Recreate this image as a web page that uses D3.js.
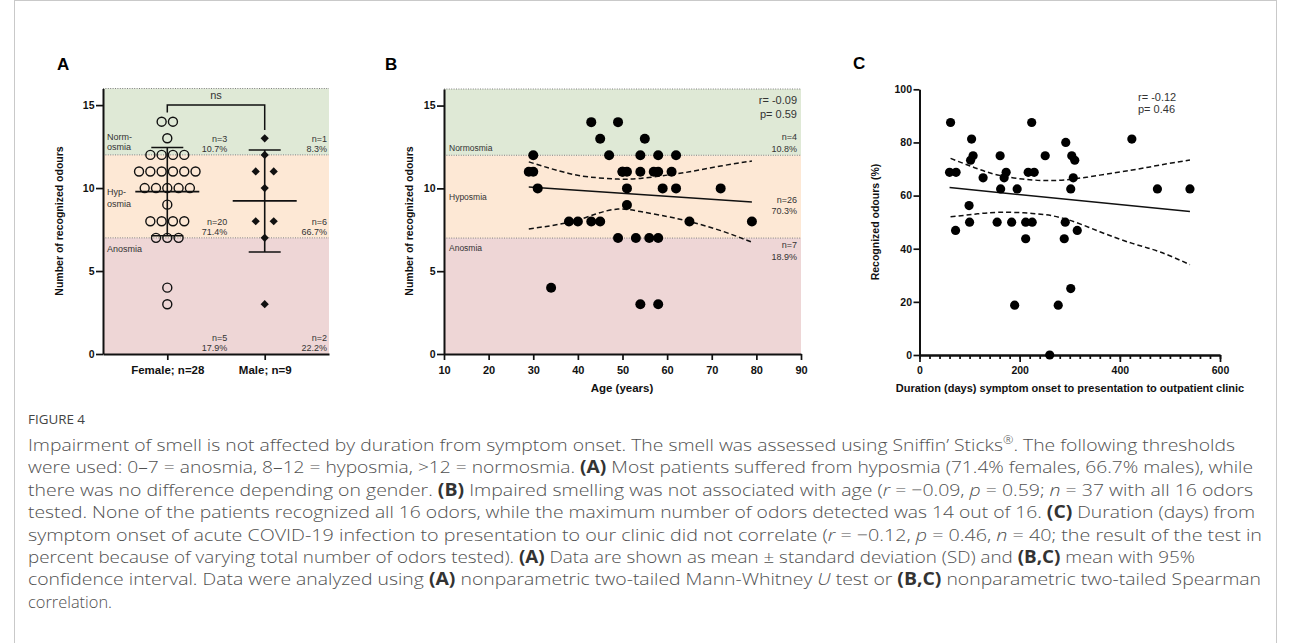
<!DOCTYPE html>
<html>
<head>
<meta charset="utf-8">
<script src="https://cdn.jsdelivr.net/npm/d3@7"></script>
<style>
    body { margin: 0; background: #fff; }
    svg { display: block; font-family: "Liberation Sans", Arial, sans-serif; }
</style>
</head>
<body>
<svg id="fig" width="1291" height="643"></svg>
<script>
// ---- Data
const bandNames = ['Anosmia', 'Hyposmia', 'Normosmia'];
const bandLimits = [[0, 7], [7, 12], [12, 16]];

// Panel A: number of recognized odours by gender
const groupLabels = ['Female; n=28', 'Male; n=9'];
const femaleScores = [14, 14, 13, 12, 12, 12, 12, 11, 11, 11, 11, 11, 11, 10, 10, 10, 10, 10, 9, 8, 8, 8, 8, 7, 7, 7, 4, 3];
const maleScores = [13, 12, 11, 11, 10, 8, 8, 7, 3];
const femaleBandStats = [['n=5', '17.9%'], ['n=20', '71.4%'], ['n=3', '10.7%']];
const maleBandStats = [['n=2', '22.2%'], ['n=6', '66.7%'], ['n=1', '8.3%']];
const scoreTicks = [0, 5, 10, 15];

// Panel B: score against age
const ageYears = [43, 49, 45, 55, 30, 47, 54, 58, 62, 29, 30, 50, 51, 54, 57, 58, 61, 50,
    31, 51, 59, 62, 72, 51, 38, 40, 43, 45, 65, 79, 49, 53, 56, 58, 34, 54, 58];
const ageScores = [14, 14, 13, 13, 12, 12, 12, 12, 12, 11, 11, 11, 11, 11, 11, 11, 11, 11,
    10, 10, 10, 10, 10, 9, 8, 8, 8, 8, 8, 8, 7, 7, 7, 7, 4, 3, 3];
const ageBandStats = [['n=7', '18.9%'], ['n=26', '70.3%'], ['n=4', '10.8%']];
const ageFitX = [29, 79];
const ageFitY = [10.08, 9.17];
const ageCiX = [29, 38, 44, 49, 54, 60, 65, 72, 79];
const ageCiUpper = [11.6, 10.9, 10.65, 10.56, 10.6, 10.8, 11.0, 11.35, 11.65];
const ageCiLower = [7.55, 7.95, 8.45, 8.75, 8.6, 8.3, 8.0, 7.45, 6.75];
const ageTicks = [10, 20, 30, 40, 50, 60, 70, 80, 90];

// Panel C: recognized odours (%) against duration (days)
const durationDays = [62, 60, 73, 72, 104, 102, 107, 99, 100, 127, 161, 162, 169, 173, 155, 184, 195,
    212, 225, 212, 224, 217, 229, 251, 292, 304, 310, 307, 302, 291, 315, 289, 424, 475, 540,
    190, 277, 302, 260];
const recognizedPct = [87.5, 68.75, 68.75, 46.9, 81.25, 73.3, 75, 56.25, 50, 66.7, 75, 62.5, 66.7, 68.75, 50, 50, 62.5,
    50, 50, 43.75, 87.5, 68.75, 68.75, 75, 80, 75, 73.3, 66.7, 62.5, 50, 46.9, 43.75, 81.25, 62.5, 62.5,
    18.75, 18.75, 25, 0];
const durFitX = [60, 540];
const durFitY = [63.0, 54.0];
const durCiX = [62, 110, 160, 225, 290, 360, 425, 480, 540];
const durCiUpper = [74.0, 70.5, 67.6, 65.9, 65.9, 67.7, 69.6, 71.5, 73.4];
const durCiLower = [52.0, 53.0, 53.7, 53.3, 51.3, 46.4, 42.0, 38.8, 34.0];
const pctTicks = [0, 20, 40, 60, 80, 100];
const dayTicks = [0, 200, 400, 600];
const dayMinorTicks = d3.range(0, 601, 20);

// Caption
const captionTitle = 'FIGURE 4';
const captionLines = [
    [['Impairment of smell is not affected by duration from symptom onset. The smell was assessed using Sniffin’ Sticks'], ['®', 'sup'], ['. The following thresholds']],
    [['were used: 0–7 = anosmia, 8–12 = hyposmia, >12 = normosmia. '], ['(A)', 'b'], [' Most patients suffered from hyposmia (71.4% females, 66.7% males), while']],
    [['there was no difference depending on gender. '], ['(B)', 'b'], [' Impaired smelling was not associated with age ('], ['r', 'i'], [' = −0.09, '], ['p', 'i'], [' = 0.59; '], ['n', 'i'], [' = 37 with all 16 odors']],
    [['tested. None of the patients recognized all 16 odors, while the maximum number of odors detected was 14 out of 16. '], ['(C)', 'b'], [' Duration (days) from']],
    [['symptom onset of acute COVID-19 infection to presentation to our clinic did not correlate ('], ['r', 'i'], [' = −0.12, '], ['p', 'i'], [' = 0.46, '], ['n', 'i'], [' = 40; the result of the test in']],
    [['percent because of varying total number of odors tested). '], ['(A)', 'b'], [' Data are shown as mean ± standard deviation (SD) and '], ['(B,C)', 'b'], [' mean with 95%']],
    [['confidence interval. Data were analyzed using '], ['(A)', 'b'], [' nonparametric two-tailed Mann-Whitney '], ['U', 'i'], [' test or '], ['(B,C)', 'b'], [' nonparametric two-tailed Spearman']],
    [['correlation.']]
];
const captionWidths = [1207, 1225, 1225, 1227, 1234, 1167, 1233, 84];

// ---- Styles
const bandColors = ['#eed6d6', '#fde8d5', '#dfe9d6'];
const FONT = '"Liberation Sans", Arial, sans-serif';

const svg = d3.select('#fig');

// figure frame
svg.append('rect')
    .attr('x', 14.5).attr('y', 0.5)
    .attr('width', 1262).attr('height', 700)
    .attr('fill', 'none').attr('stroke', '#c9c9c9');

function styleAxis(g, size) {
    g.attr('font-family', FONT);
    g.select('.domain').attr('stroke', '#111').attr('stroke-width', 2);
    g.selectAll('.tick line').attr('stroke', '#111').attr('stroke-width', 1.7);
    g.selectAll('.tick text')
        .attr('fill', '#111').attr('font-weight', 'bold').attr('font-size', size);
}

function drawBands(g, x0, x1, y) {
    g.selectAll('rect.band')
        .data(bandLimits).join('rect')
        .attr('class', 'band')
        .attr('x', x0).attr('width', x1 - x0)
        .attr('y', d => y(d[1]))
        .attr('height', d => y(d[0]) - y(d[1]))
        .attr('fill', (d, i) => bandColors[i]);

    g.selectAll('line.thr')
        .data(bandLimits).join('line')
        .attr('class', 'thr')
        .attr('x1', x0).attr('x2', x1)
        .attr('y1', d => y(d[1])).attr('y2', d => y(d[1]))
        .attr('stroke', '#808080').attr('stroke-width', 1)
        .attr('stroke-dasharray', '1,1.4');
}

function smallText(g, x, y, txt, anchor, size = 9) {
    g.append('text')
        .attr('x', x).attr('y', y)
        .attr('text-anchor', anchor)
        .attr('font-size', size).attr('fill', '#333')
        .text(txt);
}

function panelLetter(x, y, letter) {
    svg.append('text')
        .attr('x', x).attr('y', y)
        .attr('font-size', 17).attr('font-weight', 'bold').attr('fill', '#000')
        .text(letter);
}

function yTitle(x, y, txt) {
    svg.append('text')
        .attr('transform', `translate(${x},${y}) rotate(-90)`)
        .attr('text-anchor', 'middle')
        .attr('font-size', 10.5).attr('font-weight', 'bold').attr('fill', '#111')
        .text(txt);
}

function xTitle(x, y, txt, size) {
    svg.append('text')
        .attr('x', x).attr('y', y)
        .attr('text-anchor', 'middle')
        .attr('font-size', size).attr('font-weight', 'bold').attr('fill', '#111')
        .text(txt);
}

// spread equal values side by side, like a column scatter
function spread(values, spacing) {
    const counts = d3.rollup(values, v => v.length, d => d);
    const seen = new Map();
    return values.map(v => {
        const n = counts.get(v);
        const i = seen.get(v) || 0;
        seen.set(v, i + 1);
        return { v, dx: (i - (n - 1) / 2) * spacing };
    });
}

// ================= Panel A
(function () {
    const x = d3.scalePoint().domain(groupLabels).range([103, 329]).padding(0.66);
    const y = d3.scaleLinear().domain([0, 16]).range([354, 88.5]);
    const g = svg.append('g');

    drawBands(g, 103, 329, y);

    const xF = x(groupLabels[0]);
    const xM = x(groupLabels[1]);

    // mean +/- SD
    [[femaleScores, xF], [maleScores, xM]].forEach(([vals, cx]) => {
        const m = d3.mean(vals);
        const sd = d3.deviation(vals);
        g.append('line')
            .attr('x1', cx).attr('x2', cx)
            .attr('y1', y(m + sd)).attr('y2', y(m - sd))
            .attr('stroke', '#111').attr('stroke-width', 1.6);
        [m + sd, m - sd].forEach(v => g.append('line')
            .attr('x1', cx - 16).attr('x2', cx + 16)
            .attr('y1', y(v)).attr('y2', y(v))
            .attr('stroke', '#111').attr('stroke-width', 1.6));
        g.append('line')
            .attr('x1', cx - 32).attr('x2', cx + 32)
            .attr('y1', y(m)).attr('y2', y(m))
            .attr('stroke', '#111').attr('stroke-width', 1.8);
    });

    g.selectAll('circle.f')
        .data(spread(femaleScores, 11.3)).join('circle')
        .attr('class', 'f')
        .attr('cx', d => xF + d.dx).attr('cy', d => y(d.v))
        .attr('r', 4.5)
        .attr('fill', 'none').attr('stroke', '#111').attr('stroke-width', 1.4);

    g.selectAll('path.m')
        .data(spread(maleScores, 18)).join('path')
        .attr('class', 'm')
        .attr('d', d3.symbol(d3.symbolSquare, 34))
        .attr('transform', d => `translate(${xM + d.dx},${y(d.v)}) rotate(45)`)
        .attr('fill', '#111');

    // significance bracket
    g.append('path')
        .attr('d', `M${xF},${y(14.55)}V${y(15)}H${xM}V${y(13.5)}`)
        .attr('fill', 'none').attr('stroke', '#111').attr('stroke-width', 1.5);
    smallText(g, (xF + xM) / 2, 99, 'ns', 'middle', 11);

    // band names
    smallText(g, 107, 139.5, 'Norm-', 'start');
    smallText(g, 107, 150, 'osmia', 'start');
    smallText(g, 107, 195, 'Hyp-', 'start');
    smallText(g, 107, 206.5, 'osmia', 'start');
    smallText(g, 107, 251.5, bandNames[0], 'start');

    // n / % per band
    const statY = [[341, 351], [225, 235], [142, 152]];
    [[femaleBandStats, xF + 60], [maleBandStats, 327]].forEach(([stats, sx]) => {
        stats.forEach((s, i) => {
            smallText(g, sx, statY[i][0], s[0], 'end');
            smallText(g, sx, statY[i][1], s[1], 'end');
        });
    });

    svg.append('g')
        .attr('transform', 'translate(103,0)')
        .call(d3.axisLeft(y).tickValues(scoreTicks).tickSize(7).tickSizeOuter(0).tickPadding(1.5))
        .call(g => styleAxis(g, 10.5));

    svg.append('g')
        .attr('transform', 'translate(0,354)')
        .call(d3.axisBottom(x).tickSize(6).tickSizeOuter(0).tickPadding(6))
        .call(g => styleAxis(g, 11.5));

    yTitle(63, 221, 'Number of recognized odours');
    panelLetter(57, 70, 'A');
})();

// ================= Panel B
(function () {
    const x = d3.scaleLinear().domain([10, 90]).range([444, 801]);
    const y = d3.scaleLinear().domain([0, 16]).range([354, 89]);
    const g = svg.append('g');

    drawBands(g, 444, 801, y);

    const line = d3.line().x(d => x(d[0])).y(d => y(d[1])).curve(d3.curveNatural);

    g.append('path')
        .attr('d', line(d3.zip(ageCiX, ageCiUpper)))
        .attr('fill', 'none').attr('stroke', '#111').attr('stroke-width', 1.5)
        .attr('stroke-dasharray', '5,3');
    g.append('path')
        .attr('d', line(d3.zip(ageCiX, ageCiLower)))
        .attr('fill', 'none').attr('stroke', '#111').attr('stroke-width', 1.5)
        .attr('stroke-dasharray', '5,3');
    g.append('path')
        .attr('d', d3.line().x(d => x(d[0])).y(d => y(d[1]))(d3.zip(ageFitX, ageFitY)))
        .attr('fill', 'none').attr('stroke', '#111').attr('stroke-width', 1.5);

    g.selectAll('circle.pt')
        .data(d3.zip(ageYears, ageScores)).join('circle')
        .attr('class', 'pt')
        .attr('cx', d => x(d[0])).attr('cy', d => y(d[1]))
        .attr('r', 5).attr('fill', '#000');

    smallText(g, 449, 151, bandNames[2], 'start', 8.5);
    smallText(g, 449, 200, bandNames[1], 'start', 8.5);
    smallText(g, 449, 250.5, bandNames[0], 'start', 8.5);

    const statY = [[247.5, 260], [202.5, 213.5], [139.5, 151.5]];
    ageBandStats.forEach((s, i) => {
        smallText(g, 797, statY[i][0], s[0], 'end');
        smallText(g, 797, statY[i][1], s[1], 'end');
    });
    smallText(g, 797, 104, 'r= -0.09', 'end', 11);
    smallText(g, 797, 117.5, 'p= 0.59', 'end', 11);

    svg.append('g')
        .attr('transform', 'translate(444,0)')
        .call(d3.axisLeft(y).tickValues(scoreTicks).tickSize(7).tickSizeOuter(0).tickPadding(1.5))
        .call(g => styleAxis(g, 10.5));

    svg.append('g')
        .attr('transform', 'translate(0,354)')
        .call(d3.axisBottom(x).tickValues(ageTicks).tickSize(6).tickSizeOuter(0).tickPadding(6))
        .call(g => styleAxis(g, 11));

    yTitle(413, 221, 'Number of recognized odours');
    xTitle(622, 392, 'Age (years)', 11.5);
    panelLetter(385, 70, 'B');
})();

// ================= Panel C
(function () {
    const x = d3.scaleLinear().domain([0, 600]).range([919.5, 1220]);
    const y = d3.scaleLinear().domain([0, 100]).range([355, 89.3]);
    const g = svg.append('g');

    const line = d3.line().x(d => x(d[0])).y(d => y(d[1])).curve(d3.curveNatural);

    g.append('path')
        .attr('d', line(d3.zip(durCiX, durCiUpper)))
        .attr('fill', 'none').attr('stroke', '#111').attr('stroke-width', 1.5)
        .attr('stroke-dasharray', '5,3');
    g.append('path')
        .attr('d', line(d3.zip(durCiX, durCiLower)))
        .attr('fill', 'none').attr('stroke', '#111').attr('stroke-width', 1.5)
        .attr('stroke-dasharray', '5,3');
    g.append('path')
        .attr('d', d3.line().x(d => x(d[0])).y(d => y(d[1]))(d3.zip(durFitX, durFitY)))
        .attr('fill', 'none').attr('stroke', '#111').attr('stroke-width', 1.5);

    svg.append('g')
        .attr('transform', 'translate(919.5,0)')
        .call(d3.axisLeft(y).tickValues(pctTicks).tickSize(6).tickSizeOuter(0).tickPadding(1.5))
        .call(g => styleAxis(g, 10.5));

    svg.append('g')
        .attr('transform', 'translate(0,355)')
        .call(d3.axisBottom(x).tickValues(dayMinorTicks).tickSize(4).tickSizeOuter(0).tickFormat(''))
        .call(g => styleAxis(g, 10.5));
    svg.append('g')
        .attr('transform', 'translate(0,355)')
        .call(d3.axisBottom(x).tickValues(dayTicks).tickSize(7).tickSizeOuter(0).tickPadding(5))
        .call(g => styleAxis(g, 10.5));

    svg.append('g').selectAll('circle')
        .data(d3.zip(durationDays, recognizedPct)).join('circle')
        .attr('cx', d => x(d[0])).attr('cy', d => y(d[1]))
        .attr('r', 4.6).attr('fill', '#000');

    smallText(svg, 1138, 101, 'r= -0.12', 'start', 11);
    smallText(svg, 1138, 112.5, 'p= 0.46', 'start', 11);

    yTitle(879, 222, 'Recognized odours (%)');
    xTitle(1070, 392, 'Duration (days) symptom onset to presentation to outpatient clinic', 11);
    panelLetter(853, 69, 'C');
})();

// ================= Caption
svg.append('text')
    .attr('x', 28).attr('y', 424)
    .attr('font-family', '"Open Sans", sans-serif')
    .attr('font-size', 13.5).attr('fill', '#444')
    .attr('textLength', 57).attr('lengthAdjust', 'spacingAndGlyphs')
    .text(captionTitle);

captionLines.forEach((segs, i) => {
    const t = svg.append('text')
        .attr('x', 28).attr('y', 451 + i * 22.4)
        .attr('font-family', '"Open Sans", sans-serif')
        .attr('font-size', 17).attr('font-weight', 300).attr('fill', '#505050')
        .attr('textLength', captionWidths[i]).attr('lengthAdjust', 'spacingAndGlyphs')
        .style('white-space', 'pre');
    segs.forEach(([txt, kind]) => {
        const s = t.append('tspan').text(txt);
        if (kind === 'b') s.attr('font-weight', 'bold').attr('fill', '#333');
        if (kind === 'i') s.attr('font-style', 'italic');
        if (kind === 'sup') s.attr('font-size', 11).attr('baseline-shift', 'super');
    });
});
</script>
</body>
</html>
